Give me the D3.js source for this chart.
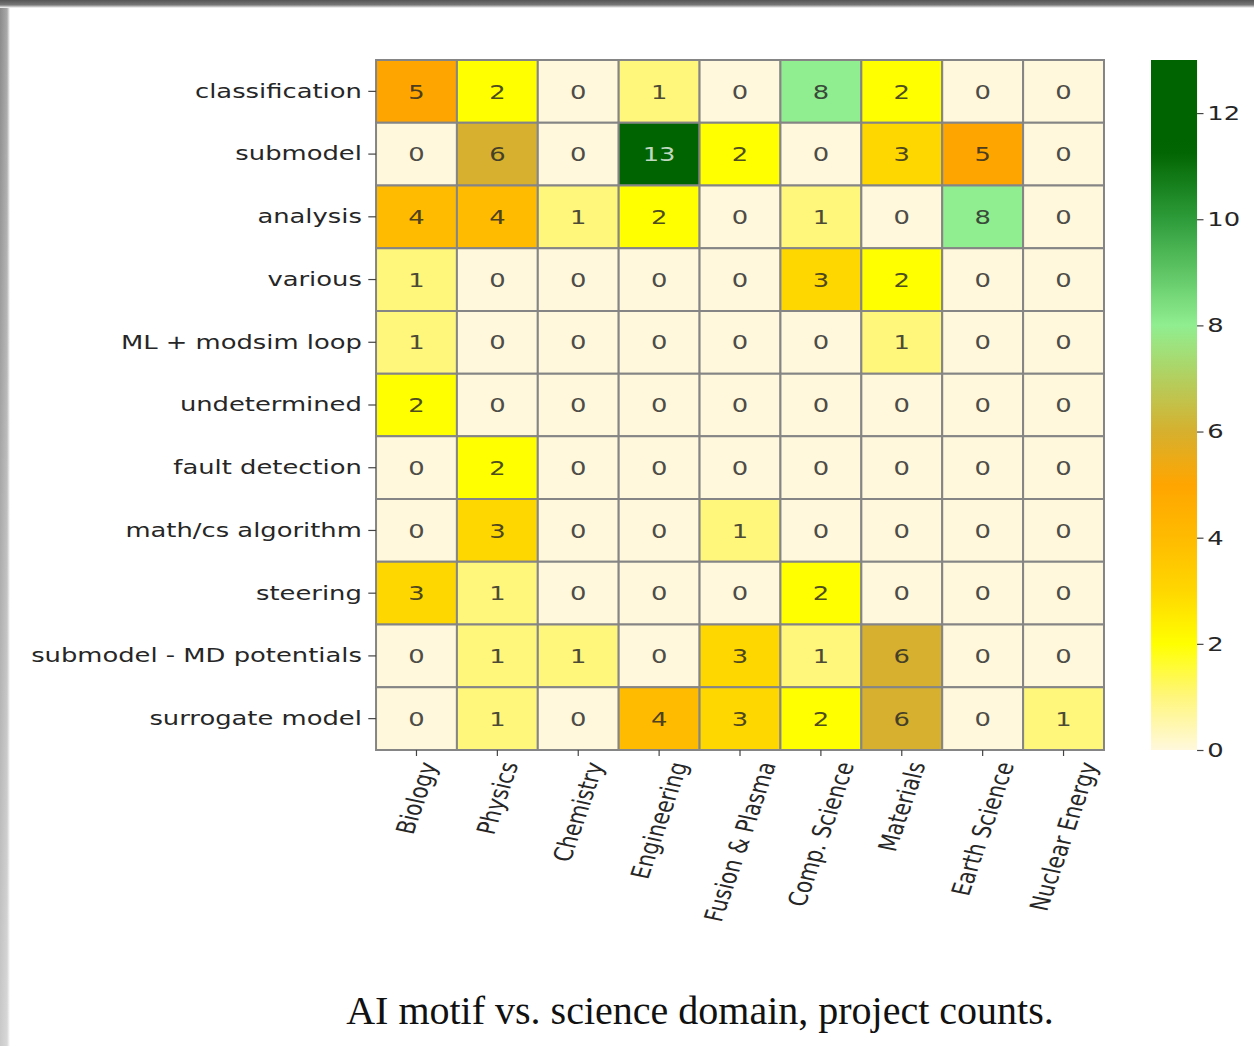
<!DOCTYPE html>
<html>
<head>
<meta charset="utf-8">
<script src="https://cdn.jsdelivr.net/npm/d3@7"></script>
<style>
  html, body { margin: 0; padding: 0; background: #fff; }
  svg { display: block; }
</style>
</head>
<body>
<svg id="chart" width="1254" height="1046"></svg>
<script>
// AI motifs (rows) by science domain (columns), number of projects
const motifs = [
  "classification", "submodel", "analysis", "various", "ML + modsim loop",
  "undetermined", "fault detection", "math/cs algorithm", "steering",
  "submodel - MD potentials", "surrogate model"
];
const domains = [
  "Biology", "Physics", "Chemistry", "Engineering", "Fusion & Plasma",
  "Comp. Science", "Materials", "Earth Science", "Nuclear Energy"
];
const counts = [
  [5, 2, 0, 1, 0, 8, 2, 0, 0],
  [0, 6, 0, 13, 2, 0, 3, 5, 0],
  [4, 4, 1, 2, 0, 1, 0, 8, 0],
  [1, 0, 0, 0, 0, 3, 2, 0, 0],
  [1, 0, 0, 0, 0, 0, 1, 0, 0],
  [2, 0, 0, 0, 0, 0, 0, 0, 0],
  [0, 2, 0, 0, 0, 0, 0, 0, 0],
  [0, 3, 0, 0, 1, 0, 0, 0, 0],
  [3, 1, 0, 0, 0, 2, 0, 0, 0],
  [0, 1, 1, 0, 3, 1, 6, 0, 0],
  [0, 1, 0, 4, 3, 2, 6, 0, 1]
];
const colorbarTicks = [0, 2, 4, 6, 8, 10, 12];
const caption = "AI motif vs. science domain, project counts.";

// colour ramp: cornsilk -> yellow -> orange -> goldenrod -> light green -> dark green
const rampStops = [0, 1, 2, 3, 4, 5, 6, 8, 10, 11.3, 13];
const rampColors = ["#fff8dc", "#fff67c", "#ffff00", "#ffd700", "#ffbb00", "#ffa500",
                    "#d6b02e", "#90ee90", "#2e9c3a", "#006400", "#006400"];
const color = d3.scaleLinear().domain(rampStops).range(rampColors).interpolate(d3.interpolateRgb);

const svg = d3.select("#chart");
const defs = svg.append("defs");

// page frame shading along the top and left edges
const gTop = defs.append("linearGradient").attr("id", "gTop").attr("x1", 0).attr("y1", 0).attr("x2", 0).attr("y2", 1);
gTop.append("stop").attr("offset", "0%").attr("stop-color", "#555");
gTop.append("stop").attr("offset", "60%").attr("stop-color", "#777");
gTop.append("stop").attr("offset", "100%").attr("stop-color", "#ffffff");
const gLeft = defs.append("linearGradient").attr("id", "gLeft").attr("x1", 0).attr("y1", 0).attr("x2", 1).attr("y2", 0);
gLeft.append("stop").attr("offset", "0%").attr("stop-color", "#8a8a8a");
gLeft.append("stop").attr("offset", "70%").attr("stop-color", "#a8a8a8");
gLeft.append("stop").attr("offset", "100%").attr("stop-color", "#ffffff");
const gLeftFade = defs.append("linearGradient").attr("id", "gLeftFade").attr("x1", 0).attr("y1", 0).attr("x2", 0).attr("y2", 1);
gLeftFade.append("stop").attr("offset", "0%").attr("stop-color", "#fff").attr("stop-opacity", 0);
gLeftFade.append("stop").attr("offset", "100%").attr("stop-color", "#fff").attr("stop-opacity", 0.55);

svg.append("rect").attr("x", 0).attr("y", 0).attr("width", 10).attr("height", 1046).attr("fill", "url(#gLeft)");
svg.append("rect").attr("x", 0).attr("y", 0).attr("width", 10).attr("height", 1046).attr("fill", "url(#gLeftFade)");
svg.append("rect").attr("x", 0).attr("y", 0).attr("width", 1254).attr("height", 8).attr("fill", "url(#gTop)");

// the figure is laid out with square cells, then widened horizontally
const stretchX = 1.29;
const fig = svg.append("g").attr("transform", `scale(${stretchX},1)`);

const plotLeft = 291.5, plotRight = 855.8, plotTop = 60, plotBottom = 750;
const x = d3.scaleBand().domain(domains).range([plotLeft, plotRight]);
const y = d3.scaleBand().domain(motifs).range([plotTop, plotBottom]);

const cells = [];
counts.forEach((row, i) => row.forEach((v, j) => cells.push({ motif: motifs[i], domain: domains[j], v })));

fig.selectAll("rect.cell").data(cells).join("rect")
  .attr("class", "cell")
  .attr("x", d => x(d.domain))
  .attr("y", d => y(d.motif))
  .attr("width", x.bandwidth())
  .attr("height", y.bandwidth())
  .attr("fill", d => color(d.v))
  .attr("stroke", "#858585")
  .attr("stroke-width", 2)
  .attr("vector-effect", "non-scaling-stroke");

fig.selectAll("text.val").data(cells).join("text")
  .attr("class", "val")
  .attr("x", d => x(d.domain) + x.bandwidth() / 2)
  .attr("y", d => y(d.motif) + y.bandwidth() / 2)
  .attr("dy", "0.36em")
  .attr("text-anchor", "middle")
  .attr("font-family", "DejaVu Sans, sans-serif")
  .attr("font-size", 20)
  .attr("fill", d => d.v >= 11 ? d3.interpolateRgb(color(d.v), "#ffffff")(0.75)
                               : d3.interpolateRgb(color(d.v), "#262626")(0.82))
  .text(d => d.v);

// y axis
const yAxis = fig.append("g").attr("transform", `translate(${plotLeft},0)`)
  .call(d3.axisLeft(y).tickSize(6).tickPadding(5));
yAxis.select(".domain").remove();
yAxis.selectAll(".tick line").attr("stroke", "#444").attr("stroke-width", 1.2).attr("vector-effect", "non-scaling-stroke");
yAxis.selectAll(".tick text")
  .attr("font-family", "DejaVu Sans, sans-serif")
  .attr("font-size", 20)
  .attr("fill", "#262626");

// x axis: rotated labels whose bounding box is centred under each tick
const labelAngle = 75, labelPad = 4, labelSize = 20;
const xAxis = fig.append("g").attr("transform", `translate(0,${plotBottom})`)
  .call(d3.axisBottom(x).tickSize(6).tickPadding(0));
xAxis.select(".domain").remove();
xAxis.selectAll(".tick line").attr("stroke", "#444").attr("stroke-width", 1.2).attr("vector-effect", "non-scaling-stroke");
const rad = labelAngle * Math.PI / 180;
xAxis.selectAll(".tick text")
  .attr("font-family", "DejaVu Sans, sans-serif")
  .attr("font-size", labelSize)
  .attr("fill", "#262626")
  .attr("text-anchor", "middle")
  .attr("dy", "0.35em")
  .attr("x", 0).attr("y", 0)
  .each(function () {
    const len = this.getComputedTextLength();
    const h = labelSize * 0.95;
    const boxH = len * Math.sin(rad) + h * Math.cos(rad);
    d3.select(this).attr("transform", `translate(0,${6 + labelPad + boxH / 2}) rotate(${-labelAngle})`);
  });

// colour bar
const cbX = 892.25, cbW = 35.7;
const cbScale = d3.scaleLinear().domain([0, 13]).range([plotBottom, plotTop]);
const cbGrad = defs.append("linearGradient").attr("id", "cbGrad")
  .attr("x1", 0).attr("y1", 1).attr("x2", 0).attr("y2", 0);
d3.range(0, 13.01, 0.25).forEach(v => {
  cbGrad.append("stop").attr("offset", (v / 13 * 100) + "%").attr("stop-color", color(v));
});
fig.append("rect").attr("x", cbX).attr("y", plotTop).attr("width", cbW).attr("height", plotBottom - plotTop)
  .attr("fill", "url(#cbGrad)");
const cbAxis = fig.append("g").attr("transform", `translate(${cbX + cbW},0)`)
  .call(d3.axisRight(cbScale).tickValues(colorbarTicks).tickSize(5).tickPadding(3));
cbAxis.select(".domain").remove();
cbAxis.selectAll(".tick line").attr("stroke", "#444").attr("stroke-width", 1.2).attr("vector-effect", "non-scaling-stroke");
cbAxis.selectAll(".tick text")
  .attr("font-family", "DejaVu Sans, sans-serif")
  .attr("font-size", 20)
  .attr("fill", "#262626");

// caption
svg.append("text")
  .attr("x", 700).attr("y", 1024)
  .attr("text-anchor", "middle")
  .attr("font-family", "Liberation Serif, Times New Roman, serif")
  .attr("font-size", 40)
  .attr("fill", "#111")
  .text(caption);
</script>
</body>
</html>
